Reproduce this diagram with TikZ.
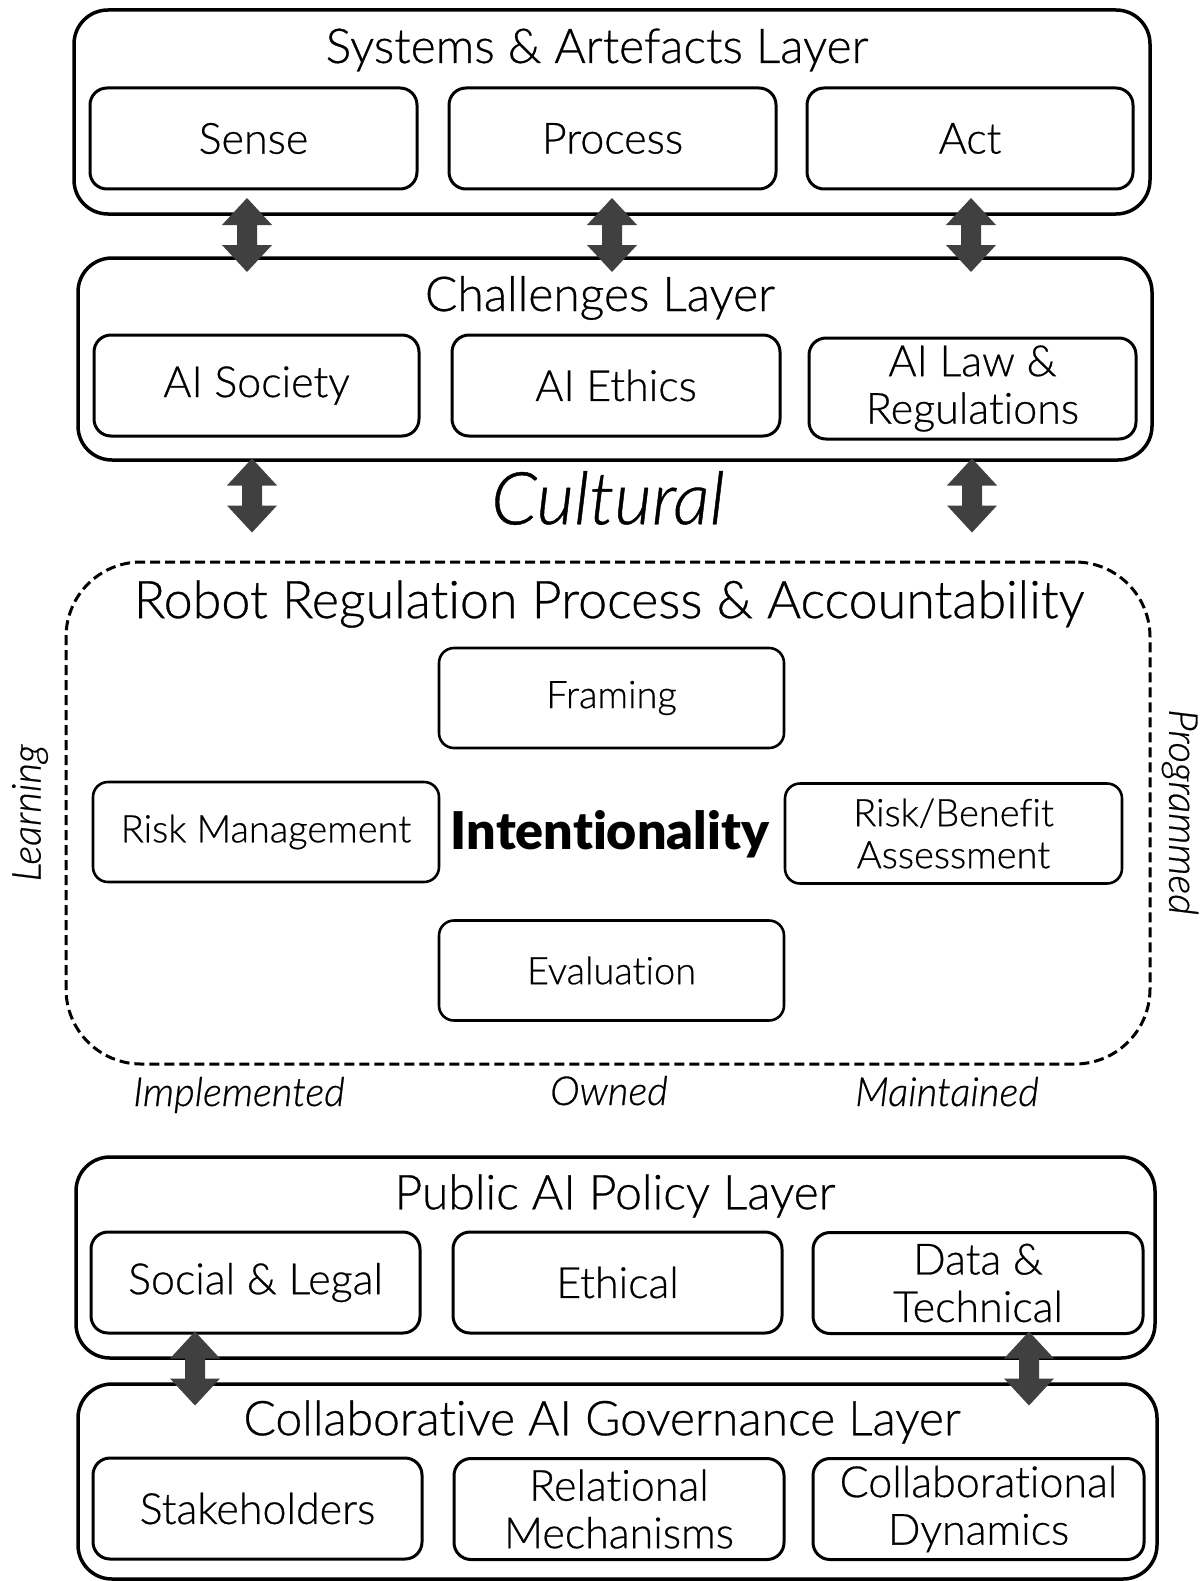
\documentclass[tikz,border=0pt]{standalone}
\usepackage{fontspec}
\setmainfont{Lato}[UprightFont=* Light, ItalicFont=* Light Italic, BoldFont=* Black, Ligatures=NoCommon, UprightFeatures={FakeBold=0.6}, ItalicFeatures={FakeBold=0.6}]
\begin{document}
\begin{tikzpicture}[x=1pt,y=-1pt,
  layer/.style={draw=black,line width=3.5pt,rounded corners=34pt,minimum width=#1,inner sep=0pt},
  sub/.style={draw=black,line width=3pt,rounded corners=17pt,minimum height=101pt,inner sep=0pt,align=center,font=\fontsize{43}{47.5}\selectfont},
  proc/.style={draw=black,line width=2.6pt,rounded corners=15pt,minimum height=100pt,inner sep=0pt,align=center,font=\fontsize{38}{42}\selectfont},
  ltitle/.style={font=\fontsize{48}{52}\selectfont,inner sep=0pt},
  side/.style={font=\fontsize{40}{44}\selectfont\itshape,inner sep=0pt},
  dbl/.pic={\fill[fill=black!75] (0,-37) -- (25,-10) -- (10,-10) -- (10,10) -- (25,10) -- (0,37) -- (-25,10) -- (-10,10) -- (-10,-10) -- (-25,-10) -- cycle;}
]
\useasboundingbox (0,0) rectangle (1202,1581);
\fill[white] (0,0) rectangle (1202,1581);

% Layer 1
\node[layer=1076pt,minimum height=204pt] (L1) at (612,112) {};
\node[ltitle] (L1t) at (597,50) {Systems \& Artefacts Layer};
\node[sub,minimum width=327pt] (sense) at (253.5,138.5) {Sense};
\node[sub,minimum width=327pt] (process) at (612.5,138.5) {Process};
\node[sub,minimum width=326pt] (act) at (970,138.5) {Act};

% Layer 2
\node[layer=1074pt,minimum height=202pt] (L2) at (615,359) {};
\node[ltitle] (L2t) at (600,298) {Challenges Layer};
\node[sub,minimum width=325pt] (soc) at (256.5,385.5) {AI Society};
\node[sub,minimum width=328pt] (eth) at (616,385.5) {AI Ethics};
\node[sub,minimum width=327pt] (law) at (972.5,388.5) {AI Law \&\\Regulations};

% Cultural
\node[font=\fontsize{73}{80}\selectfont\itshape,inner sep=0pt] (cult) at (608,498) {Cultural};

% Dashed process
\node[draw=black,line width=3pt,dash pattern=on 10pt off 5pt,rounded corners=75pt,minimum width=1084pt,minimum height=502pt,inner sep=0pt] (RR) at (608,813) {};
\node[font=\fontsize{52}{58}\selectfont,inner sep=0pt] (RRt) at (609,604) {Robot Regulation Process \& Accountability};
\node[proc,minimum width=345pt] (fram) at (611.5,698) {Framing};
\node[proc,minimum width=346pt] (rm) at (266,832) {Risk Management};
\node[proc,minimum width=337pt] (rb) at (953.5,833.5) {Risk/Benefit\\Assessment};
\node[proc,minimum width=345pt] (evl) at (611.5,970.5) {Evaluation};
\node[font=\fontsize{52}{58}\selectfont\bfseries,inner sep=0pt] (int) at (610,834) {Intentionality};
\node[side,rotate=90] (learn) at (30,813) {Learning};
\node[side,rotate=-90] (prog) at (1180,812) {Programmed};
\node[side,anchor=base] (impl) at (239,1106) {Implemented};
\node[side,anchor=base] (own) at (609,1105) {Owned};
\node[side,anchor=base] (maint) at (947,1106) {Maintained};

% Layer 3
\node[layer=1079pt,minimum height=201pt] (L3) at (615.5,1257.5) {};
\node[ltitle] (L3t) at (615,1196) {Public AI Policy Layer};
\node[sub,minimum width=329pt] (sl) at (255.5,1282.5) {Social \& Legal};
\node[sub,minimum width=329pt] (ethc) at (617.5,1282.5) {Ethical};
\node[sub,minimum width=330pt] (dt) at (978,1283) {Data \&\\Technical};

% Layer 4
\node[layer=1079pt,minimum height=195pt] (L4) at (617.5,1481.5) {};
\node[ltitle] (L4t) at (602,1422) {Collaborative AI Governance Layer};
\node[sub,minimum width=329pt] (stk) at (257.5,1508.5) {Stakeholders};
\node[sub,minimum width=330pt] (rel) at (619,1509) {Relational\\Mechanisms};
\node[sub,minimum width=331pt] (cd) at (978.5,1509) {Collaborational\\Dynamics};

% double arrows
\coordinate (a1) at (247,235);
\coordinate (a2) at (612,235);
\coordinate (a3) at (971,235);
\coordinate (a4) at (252,495.5);
\coordinate (a5) at (972,495.5);
\coordinate (a6) at (195,1368.5);
\coordinate (a7) at (1029,1368.5);
\foreach \a in {a1,a2,a3,a4,a5,a6,a7} \pic at (\a) {dbl};
\end{tikzpicture}
\end{document}
